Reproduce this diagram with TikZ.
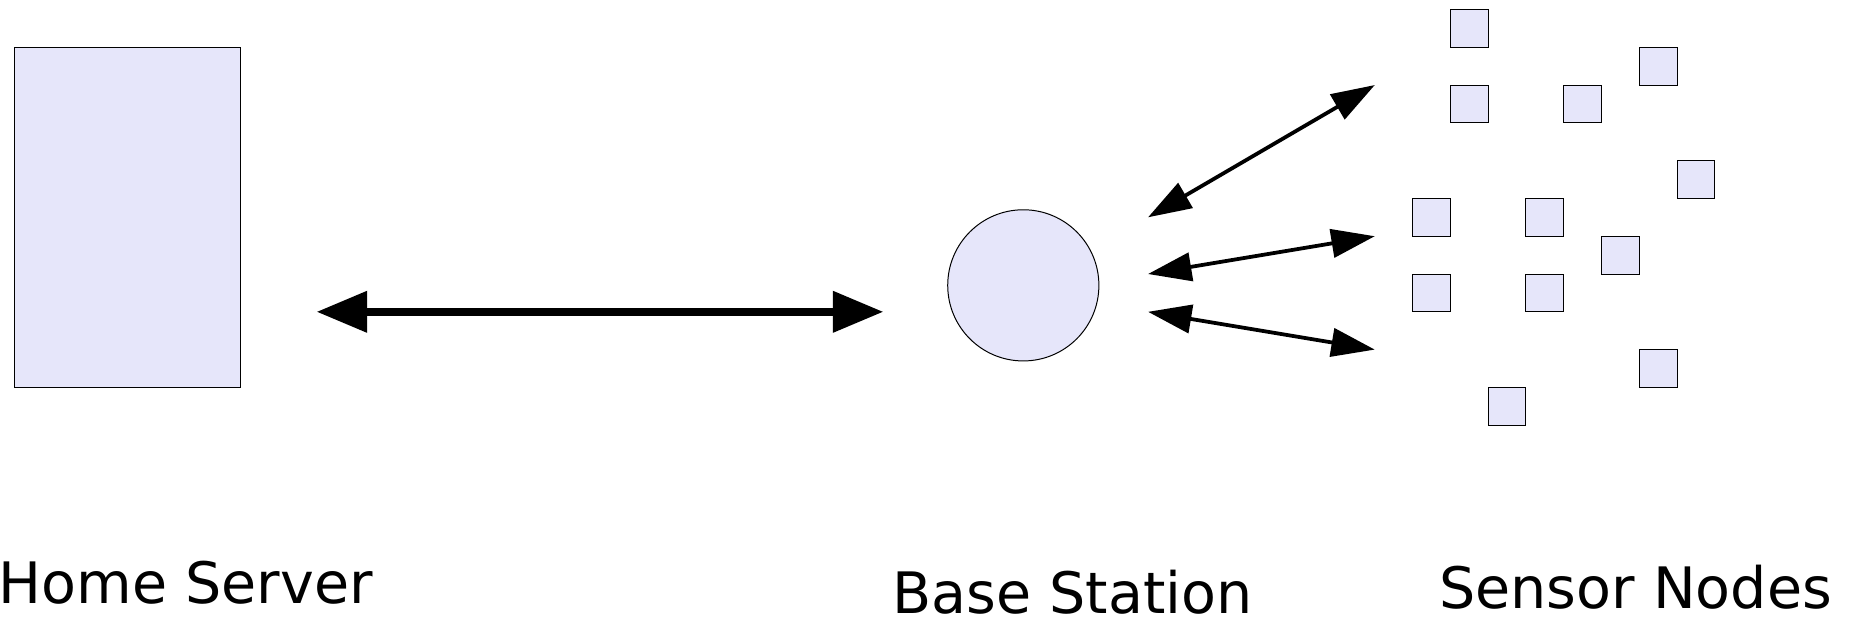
\documentclass[tikz,border=0pt]{standalone}
\usepackage{fontspec}
\setmainfont{DejaVu Sans}
\usepackage{xcolor}
\usetikzlibrary{arrows.meta}

\definecolor{lavender}{RGB}{230,230,250}

\tikzset{
  box/.style={draw, line width=0.75pt, fill=lavender, inner sep=0pt},
  sensor/.style={box, rectangle, minimum size=1cm},
  bigarrow/.style={{Triangle[length=1.34cm, width=1.05cm]}-{Triangle[length=1.34cm, width=1.05cm]}, line width=0.22cm},
  link/.style={{Triangle[length=1.15cm, width=0.75cm]}-{Triangle[length=1.15cm, width=0.75cm]}, line width=0.1cm},
  caption/.style={anchor=base, inner sep=0pt, font=\fontsize{43}{50}\selectfont}
}

\begin{document}
\begin{tikzpicture}
        \useasboundingbox (-0.375,0.25) rectangle (48.732,-16.181);

        % Home server
        \node[box, rectangle, minimum width=6cm, minimum height=9cm] (server) at (3,-5.5) {};
        \node[caption] (serverlabel) at (4.54,-15.73) {Home Server};

        % Base station
        \node[box, circle, minimum size=4cm] (base) at (26.7,-7.3) {};
        \node[caption] (baselabel) at (28,-15.97) {Base Station};

        % Sensor nodes (top-left corners)
        \foreach \x/\y [count=\i] in {38/0, 43/1, 38/2, 41/2, 44/4, 37/5, 40/5, 42/6, 37/7, 40/7, 43/9, 39/10}
            \node[sensor] (s\i) at (\x+0.5,-\y-0.5) {};
        \node[caption] (sensorlabel) at (42.9,-15.84) {Sensor Nodes};

        % Server <-> base station
        \coordinate (srvend) at (8,-8);
        \coordinate (bsend) at (23,-8);
        \draw[bigarrow] (srvend) -- (bsend);

        % Base station <-> sensors
        \coordinate (out1) at (30,-5.5);
        \coordinate (in1) at (36,-2);
        \coordinate (out2) at (30,-7);
        \coordinate (in2) at (36,-6);
        \coordinate (out3) at (30,-8);
        \coordinate (in3) at (36,-9);
        \draw[link] (out1) -- (in1);
        \draw[link] (out2) -- (in2);
        \draw[link] (out3) -- (in3);
\end{tikzpicture}
\end{document}
